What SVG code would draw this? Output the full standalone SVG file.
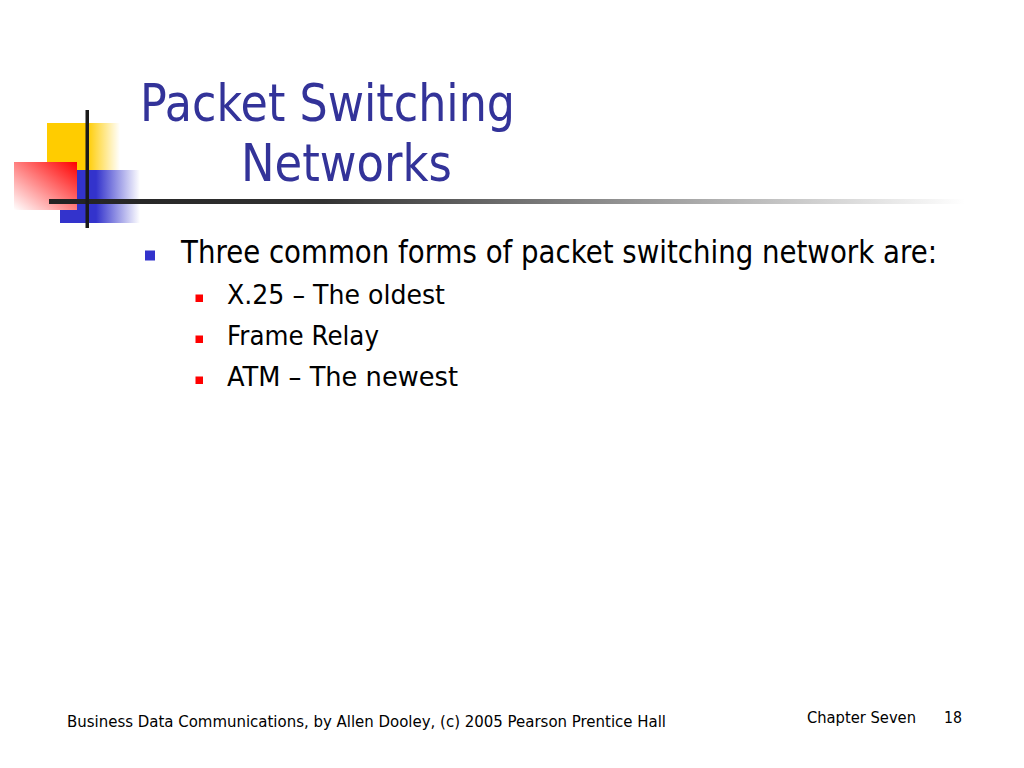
<svg xmlns="http://www.w3.org/2000/svg" width="1024" height="768" viewBox="0 0 1024 768">
<defs>
<linearGradient id="gy" x1="0" y1="0" x2="1" y2="0">
<stop offset="0" stop-color="#FFCC00"/><stop offset="0.55" stop-color="#FFCC00"/><stop offset="1" stop-color="#FFCC00" stop-opacity="0"/>
</linearGradient>
<linearGradient id="gb" x1="0" y1="0" x2="1" y2="0">
<stop offset="0" stop-color="#3333CC"/><stop offset="0.45" stop-color="#3333CC"/><stop offset="1" stop-color="#3333CC" stop-opacity="0"/>
</linearGradient>
<linearGradient id="gr" x1="1" y1="0" x2="0" y2="1">
<stop offset="0" stop-color="#FF0000"/><stop offset="1" stop-color="#FFFFFF"/>
</linearGradient>
<linearGradient id="gl" gradientUnits="userSpaceOnUse" x1="49" y1="0" x2="965" y2="0">
<stop offset="0" stop-color="#222222"/><stop offset="0.3" stop-color="#333333"/><stop offset="1" stop-color="#333333" stop-opacity="0"/>
</linearGradient>
</defs>
<style>
.t{font-family:"DejaVu Sans","Liberation Sans",sans-serif;}
.title{fill:#333399;font-size:52px;}
.b1{fill:#000;font-size:32px;}
.b2{fill:#000;font-size:27px;}
.ft{fill:#000;font-size:16px;}
</style>
<rect width="1024" height="768" fill="#fff"/>
<g id="logo">
<rect x="47" y="123" width="73" height="47" fill="url(#gy)"/>
<rect x="60" y="170" width="80" height="53" fill="url(#gb)"/>
<rect x="14" y="162" width="63" height="48" fill="url(#gr)"/>
<rect x="49" y="199" width="916" height="5" fill="url(#gl)"/>
<rect x="85.5" y="110" width="3.5" height="118" fill="#1a1a1a"/>
</g>
<g id="title">
<text class="t title" x="140" y="121" textLength="375" lengthAdjust="spacingAndGlyphs">Packet Switching</text>
<text class="t title" x="241" y="181" textLength="211" lengthAdjust="spacingAndGlyphs">Networks</text>
</g>
<g id="bullets">
<rect x="145" y="250.5" width="10" height="10" fill="#3333CC"/>
<text class="t b1" x="181" y="263" textLength="756" lengthAdjust="spacingAndGlyphs">Three common forms of packet switching network are:</text>
<rect x="195.5" y="294.5" width="7.5" height="7.5" fill="#FF0000"/>
<text class="t b2" x="227" y="304" textLength="218" lengthAdjust="spacingAndGlyphs">X.25 – The oldest</text>
<rect x="195.5" y="335.5" width="7.5" height="7.5" fill="#FF0000"/>
<text class="t b2" x="227" y="345" textLength="152" lengthAdjust="spacingAndGlyphs">Frame Relay</text>
<rect x="195.5" y="376.5" width="7.5" height="7.5" fill="#FF0000"/>
<text class="t b2" x="227" y="386" textLength="231" lengthAdjust="spacingAndGlyphs">ATM – The newest</text>
</g>
<g id="footer">
<text class="t ft" x="67" y="727" textLength="599" lengthAdjust="spacingAndGlyphs">Business Data Communications, by Allen Dooley, (c) 2005 Pearson Prentice Hall</text>
<text class="t ft" x="807" y="723" textLength="109" lengthAdjust="spacingAndGlyphs">Chapter Seven</text>
<text class="t ft" x="944" y="723" textLength="18" lengthAdjust="spacingAndGlyphs">18</text>
</g>
</svg>
